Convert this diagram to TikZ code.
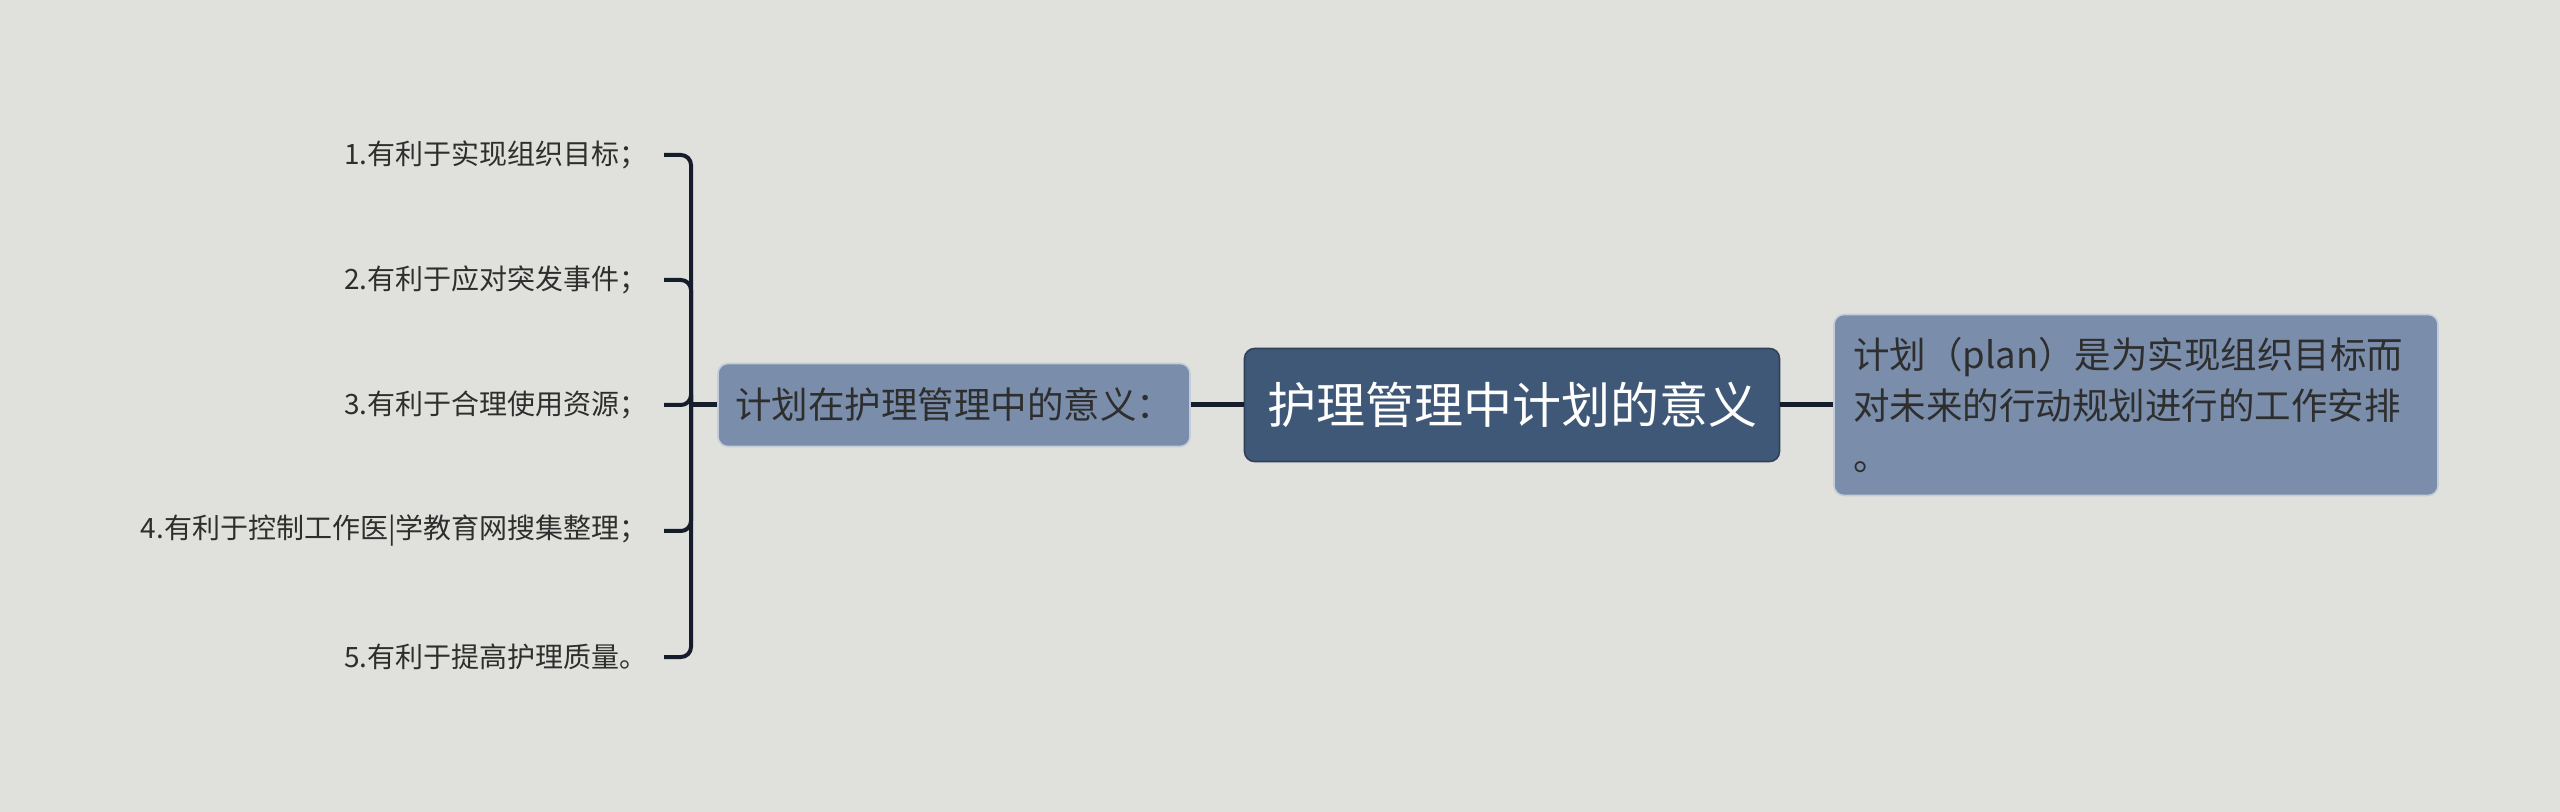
\documentclass[tikz,border=0pt]{standalone}
\usepackage{fontspec}
\setmainfont{Noto Sans CJK SC}
\definecolor{bg}{HTML}{E0E1DC}
\definecolor{rootblue}{HTML}{405877}
\definecolor{subblue}{HTML}{7A8DAA}
\definecolor{textgrey}{HTML}{2E2E2E}
\definecolor{linkdark}{HTML}{151D2C}
\begin{document}
\begin{tikzpicture}[x = 0.5pt, y = -0.5pt,
  rootbox/.style = {fill = rootblue, draw = rootblue!75!black, line width = 0.8pt, rounded corners = 5pt, text = white, font = \fontsize{24.5}{28}\selectfont, minimum width = 267.5pt, minimum height = 56.5pt},
  subbox/.style = {fill = subblue, draw = white!55!subblue, line width = 0.8pt, rounded corners = 5pt, text = textgrey, font = \fontsize{18.25}{25.5}\selectfont},
  leaf/.style = {anchor = east, inner xsep = 8pt, inner ysep = 0pt, text = textgrey, font = \fontsize{14}{16}\selectfont},
  link/.style = {draw = linkdark, line width = 2pt, rounded corners = 5pt}]
\fill[bg] (0,0) rectangle (2560,812);
\useasboundingbox (0,0) rectangle (2560,812);
\node[rootbox] (root) at (1512,405) {护理管理中计划的意义};
\node[subbox, minimum width = 236pt, minimum height = 41.5pt] (mean) at (954,405) {计划在护理管理中的意义：};
\node[subbox, minimum width = 302pt, minimum height = 90.5pt, text width = 283pt, inner xsep = 9.5pt, align = left] (def) at (2136,405) {计划（plan）是为实现组织目标而\\对未来的行动规划进行的工作安排\\。};
\coordinate (hub) at (691,405);
\foreach \n/\y/\t in {1/155/1.有利于实现组织目标；, 2/280/2.有利于应对突发事件；, 3/405/3.有利于合理使用资源；, 4/531/4.有利于控制工作医|学教育网搜集整理；, 5/657/5.有利于提高护理质量。}
{
  \node[leaf] (l\n) at (664,\y) {\t};
  \draw[link] (l\n.east) -| (hub);
}
\draw[link, line width = 2.5pt] (hub) -- (mean.west);
\draw[link, line width = 2.5pt] (mean.east) -- (root.west);
\draw[link, line width = 2.5pt] (root.east) -- (def.west);
\end{tikzpicture}
\end{document}
